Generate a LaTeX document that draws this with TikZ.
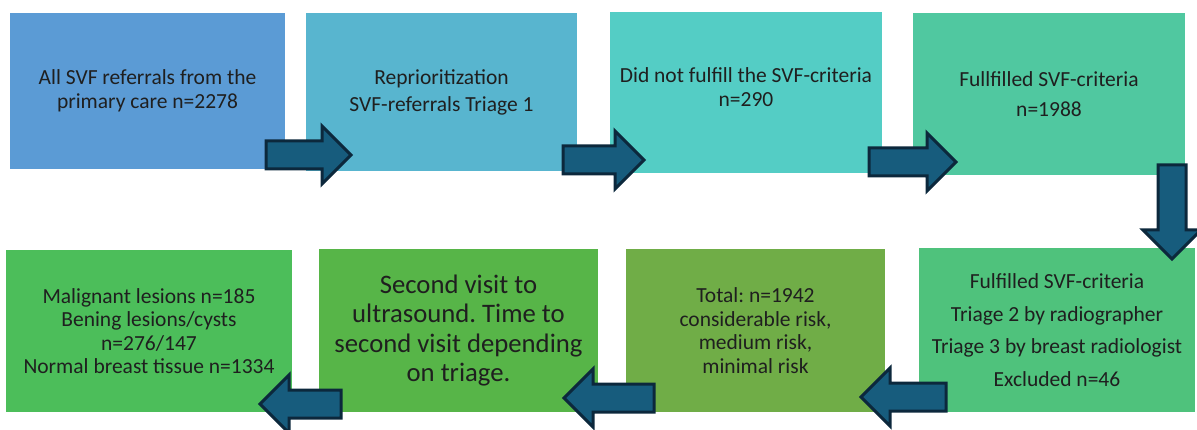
\documentclass[tikz,border=0pt]{standalone}
\usepackage{fontspec}
\setmainfont{Carlito}
\frenchspacing
\usetikzlibrary{shapes.arrows}

\definecolor{refblue}{RGB}{91,155,213}
\definecolor{prioblue}{RGB}{88,181,207}
\definecolor{notmetcyan}{RGB}{84,205,197}
\definecolor{metgreen}{RGB}{80,200,160}
\definecolor{triagegreen}{RGB}{79,194,124}
\definecolor{totalgreen}{RGB}{112,173,71}
\definecolor{visitgreen}{RGB}{87,181,72}
\definecolor{outcomegreen}{RGB}{76,190,90}
\definecolor{arrowfill}{RGB}{23,92,125}
\definecolor{arrowline}{RGB}{12,40,60}

\begin{document}
\begin{tikzpicture}
  [x=1pt, y=-1pt]
  \tikzstyle{box} = [inner sep=0pt, outer sep=0pt, align=center, text=black!88, font=\fontsize{21.5}{23.5}\selectfont];
  \tikzstyle{big_box} = [box, font=\fontsize{26.7}{29.5}\selectfont];
  \tikzstyle{block_arrow} = [single arrow, draw=arrowline, fill=arrowfill, line width=3pt, inner xsep=0pt, inner ysep=12.5pt, single arrow head extend=15pt, outer sep=0pt, anchor=tip];

  \useasboundingbox (0, 0) rectangle (1197, 430);

  % top row
  \node[box, fill=refblue, minimum width=275pt, minimum height=156pt] (referrals) at (147.5, 91)
    {All SVF referrals from the \\ primary care n=2278};
  \node[box, fill=prioblue, minimum width=271pt, minimum height=158pt] (reprio) at (441.5, 92)
    {Reprioritization \\[3.5pt] SVF-referrals Triage 1};
  \node[box, fill=notmetcyan, minimum width=272pt, minimum height=161pt] (notmet) at (746, 92.5)
    {Did not fulfill the SVF-criteria \\ n=290 \\[-13pt]};
  \node[box, fill=metgreen, minimum width=272pt, minimum height=162pt] (met) at (1049, 94)
    {Fullfilled SVF-criteria \\[6.5pt] n=1988};

  % bottom row
  \node[box, fill=outcomegreen, minimum width=286pt, minimum height=162pt] (outcome) at (149, 331)
    {Malignant lesions n=185 \\ Bening lesions/cysts \\ n=276/147 \\ Normal breast tissue n=1334};
  \node[big_box, fill=visitgreen, minimum width=279pt, minimum height=163pt] (visit) at (458.5, 330.5)
    {Second visit to \\ ultrasound. Time to \\ second visit depending \\ on triage.};
  \node[box, fill=totalgreen, minimum width=259pt, minimum height=163pt] (total) at (755.5, 330.5)
    {Total: n=1942 \\ considerable risk, \\ medium risk, \\ minimal risk};
  \node[box, fill=triagegreen, minimum width=276pt, minimum height=164pt] (triage) at (1057, 330)
    {Fulfilled SVF-criteria \\[9pt] Triage 2 by radiographer \\[9pt] Triage 3 by breast radiologist \\[9pt] Excluded n=46};

  % arrows
  \node[block_arrow, minimum height=85pt] (a1) at (351, 155) {};
  \node[block_arrow, minimum height=81pt] (a2) at (644, 160) {};
  \node[block_arrow, minimum height=87pt] (a3) at (956, 162) {};
  \node[block_arrow, minimum height=94pt, rotate=-90] (a4) at (1172, 259) {};
  \node[block_arrow, minimum height=85pt, rotate=180] (a5) at (861, 397) {};
  \node[block_arrow, minimum height=90pt, rotate=180] (a6) at (564, 398) {};
  \node[block_arrow, minimum height=81pt, rotate=180] (a7) at (260, 404) {};

\end{tikzpicture}
\end{document}
